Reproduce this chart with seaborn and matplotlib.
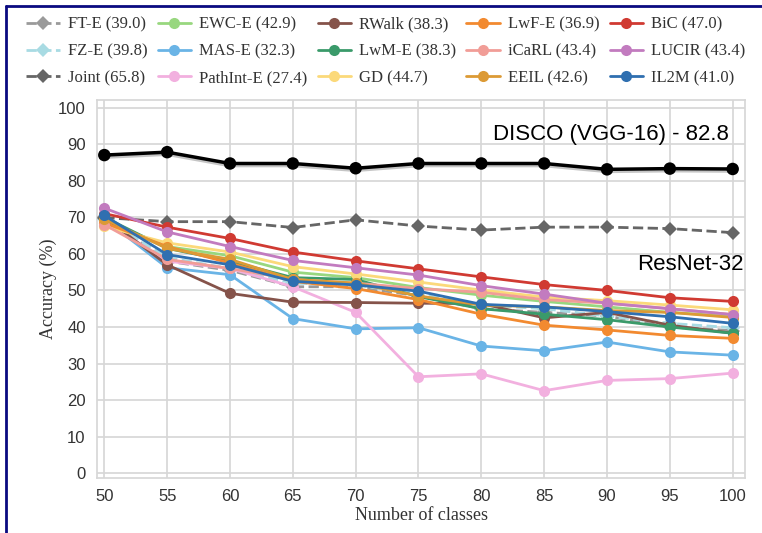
import matplotlib
matplotlib.use("Agg")
import matplotlib.pyplot as plt
import matplotlib.patheffects as pe
from matplotlib.lines import Line2D
import seaborn as sns

classes = [50, 55, 60, 65, 70, 75, 80, 85, 90, 95, 100]

ft_e = [70.0, 58.0, 55.5, 51.0, 51.0, 48.5, 45.0, 44.0, 43.0, 40.0, 39.0]
fz_e = [69.5, 59.0, 56.0, 52.0, 51.5, 49.0, 46.0, 45.0, 43.0, 41.0, 39.8]
joint = [69.9, 68.8, 68.8, 67.2, 69.3, 67.6, 66.5, 67.3, 67.3, 66.9, 65.8]
ewc_e = [69.0, 62.0, 59.5, 55.0, 53.5, 50.8, 48.7, 47.0, 45.5, 44.0, 42.9]
mas_e = [69.5, 56.2, 54.3, 42.3, 39.5, 39.8, 34.8, 33.5, 35.9, 33.2, 32.3]
pathint_e = [69.0, 58.0, 56.0, 51.0, 44.0, 26.4, 27.2, 22.6, 25.4, 25.9, 27.4]
rwalk = [70.0, 57.0, 49.2, 46.8, 46.7, 46.5, 46.4, 42.5, 44.0, 40.5, 38.3]
lwm_e = [70.0, 61.5, 58.0, 53.5, 53.0, 48.3, 45.0, 43.5, 42.0, 40.0, 38.3]
gd = [67.5, 63.0, 60.5, 56.5, 54.5, 52.3, 50.1, 48.2, 47.2, 46.0, 44.7]
lwf_e = [68.5, 62.0, 57.5, 52.5, 50.5, 47.5, 43.5, 40.5, 39.2, 37.7, 36.9]
icarl = [68.0, 58.5, 56.0, 53.0, 52.0, 50.5, 49.5, 47.5, 46.5, 45.0, 43.4]
eeil = [69.5, 61.5, 58.5, 53.0, 52.0, 48.5, 46.0, 45.5, 44.5, 44.0, 42.6]
bic = [71.0, 67.3, 64.2, 60.5, 58.1, 55.9, 53.7, 51.6, 50.0, 48.0, 47.0]
lucir = [72.5, 66.0, 62.0, 58.2, 56.2, 54.2, 51.3, 49.0, 46.5, 45.0, 43.4]
il2m = [70.5, 59.8, 57.0, 52.5, 51.5, 49.8, 46.2, 45.5, 44.2, 42.8, 41.0]
disco = [87.0, 87.8, 84.7, 84.7, 83.4, 84.7, 84.7, 84.7, 83.1, 83.3, 83.2]

# (label, values, colour, marker, dashed) in legend (column-major) order
series = [
    ("FT-E (39.0)", ft_e, "#9a9a9a", "D", True),
    ("FZ-E (39.8)", fz_e, "#a8dbe3", "D", True),
    ("Joint (65.8)", joint, "#666666", "D", True),
    ("EWC-E (42.9)", ewc_e, "#98d77f", "o", False),
    ("MAS-E (32.3)", mas_e, "#6ab4e6", "o", False),
    ("PathInt-E (27.4)", pathint_e, "#f2b0df", "o", False),
    ("RWalk (38.3)", rwalk, "#85534a", "o", False),
    ("LwM-E (38.3)", lwm_e, "#3a9a6a", "o", False),
    ("GD (44.7)", gd, "#fbd97a", "o", False),
    ("LwF-E (36.9)", lwf_e, "#f28a30", "o", False),
    ("iCaRL (43.4)", icarl, "#f19d97", "o", False),
    ("EEIL (42.6)", eeil, "#dc9a35", "o", False),
    ("BiC (47.0)", bic, "#d03a32", "o", False),
    ("LUCIR (43.4)", lucir, "#c27bbf", "o", False),
    ("IL2M (41.0)", il2m, "#2f6fb0", "o", False),
]

sns.set_theme(style="whitegrid")
plt.rcParams["font.family"] = ["Liberation Sans", "DejaVu Sans"]

fig = plt.figure(figsize=(7.62, 5.33), dpi=100)
ax = fig.add_axes([0.127, 0.103, 0.851, 0.709])

for label, vals, color, marker, dashed in series:
    sns.lineplot(x=classes, y=vals, ax=ax, color=color, marker=marker,
                 markersize=8 if marker == "o" else 7, markeredgewidth=0,
                 linewidth=2, linestyle="--" if dashed else "-",
                 label=label, zorder=3)

sns.lineplot(x=classes, y=disco, ax=ax, color="black", marker="o",
             markersize=9, linewidth=2.5, markeredgewidth=0, zorder=4,
             path_effects=[pe.SimpleLineShadow(offset=(0, -1.5), alpha=0.25),
                           pe.Normal()])

ax.set_xlim(49.4, 101)
ax.set_ylim(-1.3, 102)
ax.set_xticks(classes)
ax.set_yticks(range(0, 101, 10))
ax.tick_params(labelsize=12, colors="#333333", pad=2)
ax.grid(color="#d6d6d6", linewidth=1.2)
for s in ax.spines.values():
    s.set_color("#d6d6d6")
    s.set_linewidth(1.2)

ax.set_xlabel("Number of classes", family="Liberation Serif", fontsize=13,
              color="#333333", labelpad=2)
ax.set_ylabel("Accuracy (%)", family="Liberation Serif", fontsize=13,
              color="#333333", labelpad=1)

ax.text(0.975, 0.91, "DISCO (VGG-16) - 82.8", transform=ax.transAxes,
        ha="right", va="center", fontsize=16, color="black")
ax.text(0.997, 0.565, "ResNet-32", transform=ax.transAxes,
        ha="right", va="center", fontsize=16, color="black")

handles, labels = ax.get_legend_handles_labels()
ax.get_legend().remove()
fig.legend(handles, labels, ncol=5, loc="upper left",
           bbox_to_anchor=(0.015, 0.997), frameon=False,
           prop={"family": "Liberation Serif", "size": 12},
           handlelength=2.0, handletextpad=0.5, columnspacing=0.6,
           labelspacing=0.65, labelcolor="#333333")

# navy frame on the top and left edges
fig.add_artist(Line2D([0.008, 1.0], [0.989, 0.989], transform=fig.transFigure,
                      color="#0a0a80", linewidth=2))
fig.add_artist(Line2D([0.008, 0.008], [0.0, 0.989], transform=fig.transFigure,
                      color="#0a0a80", linewidth=2))

fig.savefig("out.png", dpi=100)
